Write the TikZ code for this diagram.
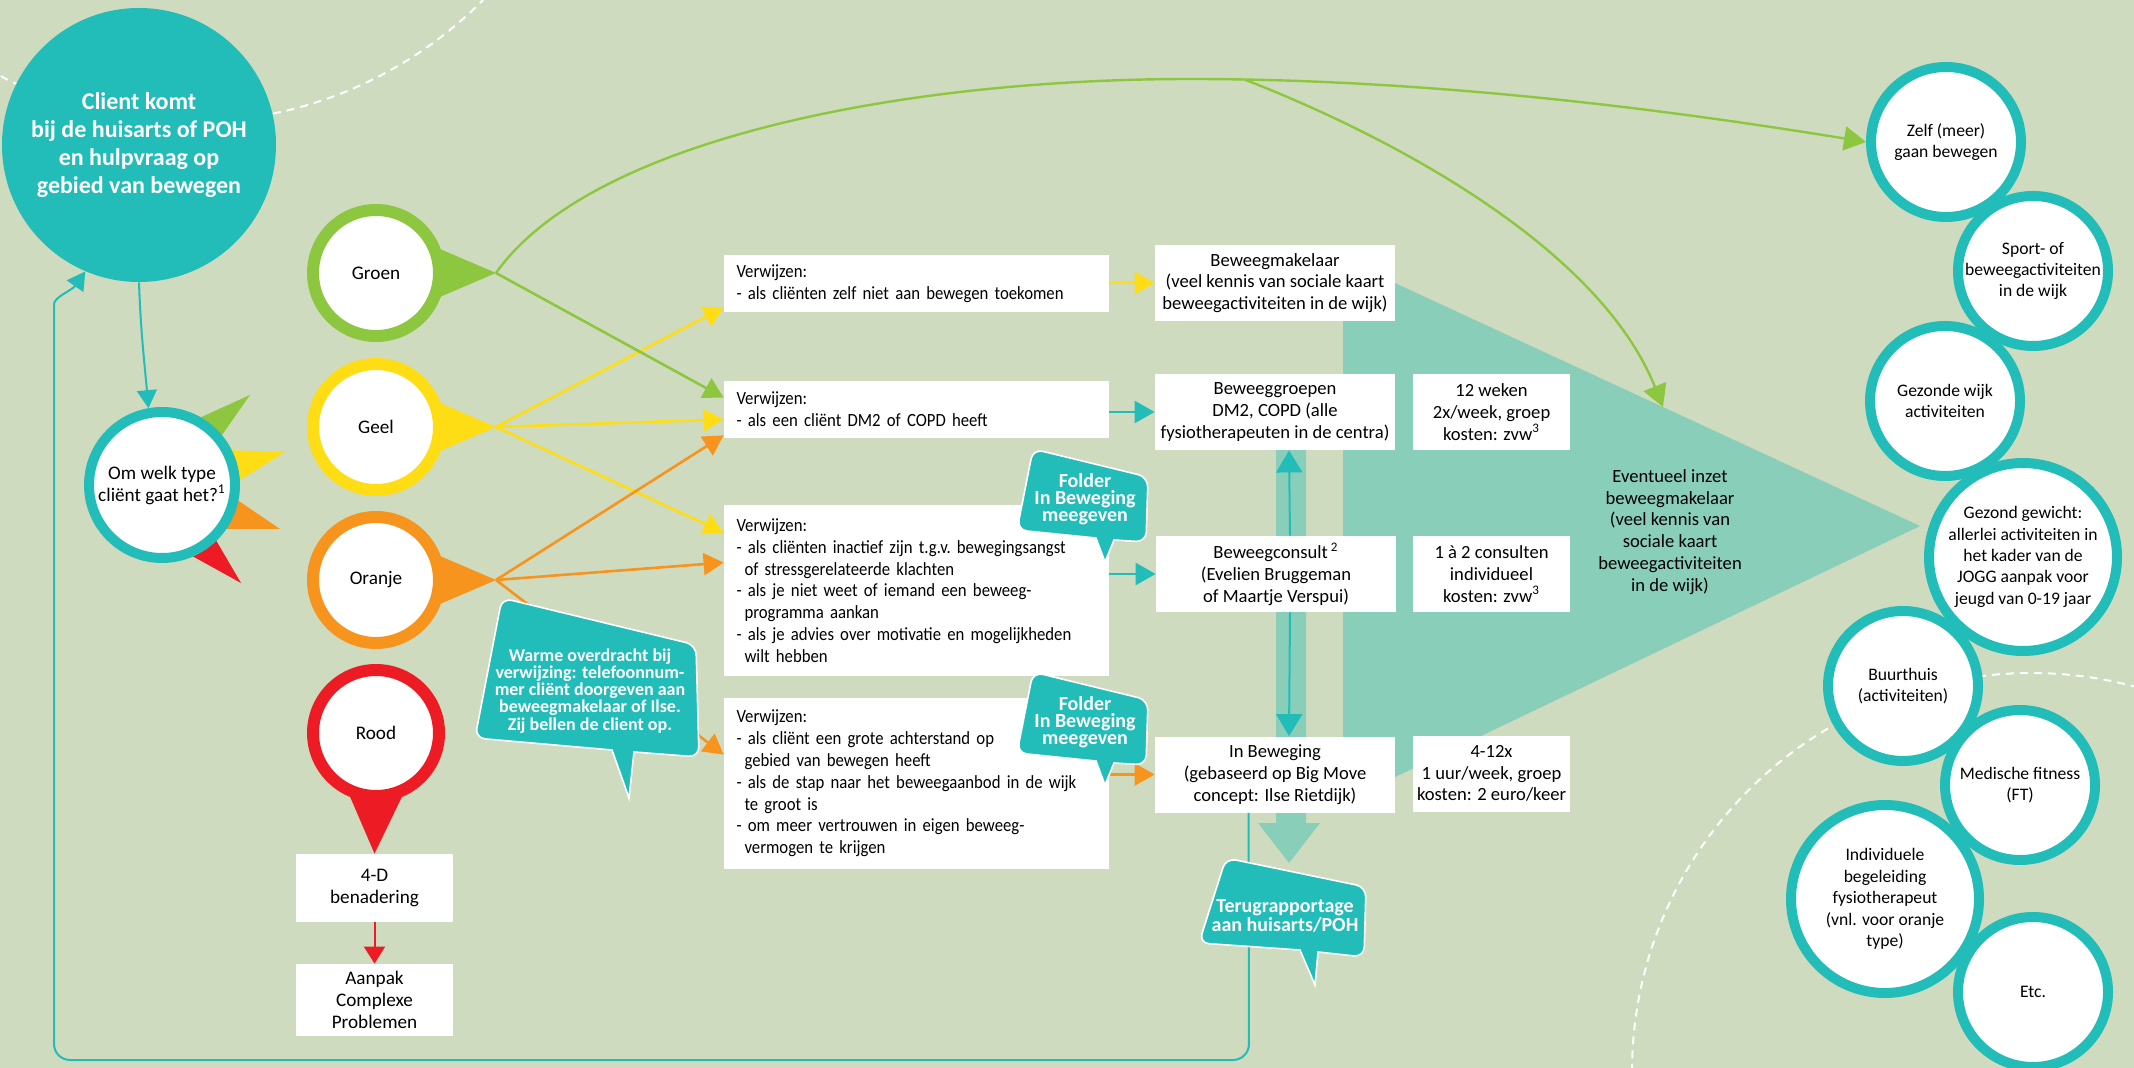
\documentclass[tikz,border=0pt]{standalone}
\usepackage{fontspec}
\setmainfont{Carlito}
\newfontfamily\smalfont{Carlito}[FakeStretch=0.9]
\usetikzlibrary{arrows.meta,positioning,calc}

\definecolor{achtergrond}{RGB}{207,219,190}
\definecolor{cteal}{RGB}{34,188,185}
\definecolor{lichtteal}{RGB}{137,206,185}
\definecolor{cgroen}{RGB}{141,198,63}
\definecolor{cgeel}{RGB}{255,221,21}
\definecolor{coranje}{RGB}{247,148,29}
\definecolor{crood}{RGB}{237,28,36}

\tikzset{
  every node/.append style={font=\fontsize{9.3}{10.9}\selectfont, inner sep=0pt},
}
\tikzset{
  kleurpijl/.style={line width=1.3pt, -{Triangle[length=10pt,width=11pt]}},
  tealpijl/.style={cteal, line width=1pt, -{Triangle[length=9pt,width=10pt]}},
  groenlijn/.style={cgroen, line width=1.2pt, -{Triangle[length=11pt,width=12pt]}},
  ballon/.style={fill=cteal, draw=white, line width=0.8pt},
  ballontekst/.style={text=white, align=center, font=\bfseries\fontsize{9}{8.6}\selectfont},
  stippel/.style={white, line width=1pt, dash pattern=on 4pt off 3pt}
}

\begin{document}
\begin{tikzpicture}[
  x=0.5pt, y=-0.5pt,
  typering/.style={circle, fill=white, line width=6pt, minimum size=63pt, font=\fontsize{9.6}{11}\selectfont},
  aanbod/.style={circle, draw=cteal, fill=white, line width=5pt, minimum size=75pt},
  groot/.style={aanbod, minimum size=94pt},
  aanbodtekst/.style={align=center, font=\fontsize{8.8}{10.7}\selectfont},
  verwijs/.style={fill=white, align=left, text width=180pt, inner xsep=6.25pt, minimum height=28.5pt, font=\smalfont\fontsize{9.3}{10.9}\selectfont\frenchspacing},
  doel/.style={fill=white, align=center, minimum width=120pt, minimum height=38pt},
  kosten/.style={doel, minimum width=78.5pt}
]

% achtergrond
\useasboundingbox (0,0) rectangle (2134,1068);
\clip (0,0) rectangle (2134,1068);
\fill[achtergrond] (0,0) rectangle (2134,1068);

% gestippelde cirkels
\draw[stippel] (190,-291) circle[radius=206.5pt];
\draw[stippel] (2031,1072) circle[radius=199.5pt];

% lichte driehoek en brede pijl achter het aanbod
\fill[lichtteal] (1343,259) -- (1920,526) -- (1343,802) -- cycle;
\fill[lichtteal] (1276,430) -- (1306,430) -- (1306,823) -- (1320,823) -- (1289,863) -- (1258,823) -- (1276,823) -- cycle;
\coordinate (driehoek) at (1663,407);
\node[align=center] (inzet) at (1670,532) {Eventueel inzet\\beweegmakelaar\\(veel kennis van\\sociale kaart\\beweegactiviteiten\\in de wijk)};

% client
\node[circle, fill=cteal, minimum size=137pt, text=white, align=center, font=\bfseries\fontsize{12}{14}\selectfont] (client) at (139,145) {Client komt\\bij de huisarts of POH\\en hulpvraag op\\gebied van bewegen};

% om welk type
\fill[cgroen] (195,420) -- (250,395) -- (215,445) -- cycle;
\fill[cgeel] (225,450) -- (285,452) -- (232,485) -- cycle;
\fill[coranje] (230,495) -- (280,529) -- (220,529) -- cycle;
\fill[crood] (210,530) -- (241,583) -- (185,552) -- cycle;
\node[circle, draw=cteal, fill=white, line width=5pt, minimum size=73pt, align=center, font=\fontsize{9.6}{11}\selectfont] (omwelk) at (162,485) {Om welk type\\cliënt gaat het?\textsuperscript{1}};

% kleuren
\foreach \naam/\kleur/\y/\tekst in {groen/cgroen/273/Groen, geel/cgeel/427/Geel, oranje/coranje/580/Oranje, rood/crood/733/Rood}
  \node[typering, draw=\kleur] (\naam) at (376,\y) {\tekst};

\coordinate (tipgroen) at (496,273);
\coordinate (tipgeel) at (496,427);
\coordinate (tiporanje) at (496,580);
\foreach \naam/\kleur in {groen/cgroen, geel/cgeel, oranje/coranje}
  \fill[\kleur] (\naam.20) -- (tip\naam) -- (\naam.-20) -- cycle;

% rood: 4-D
\node[kosten, minimum height=34pt, font=\fontsize{9.6}{11}\selectfont] (vierd) at (374.5,888) {4-D\\benadering};
\node[kosten, minimum height=36pt, font=\fontsize{9.6}{11}\selectfont] (aanpak) at (374.5,1000) {Aanpak\\Complexe\\Problemen};
\fill[crood] (rood.-112) -- (vierd.north) -- (rood.-68) -- cycle;
\draw[crood, line width=1pt, -{Triangle[length=8.5pt,width=10.5pt]}] (vierd) -- (aanpak);

% verwijzingen
\node[verwijs] (v1) at (916.5,283.5) {Verwijzen:\\- als cliënten zelf niet aan bewegen toekomen};
\node[verwijs] (v2) at (916.5,409.5) {Verwijzen:\\- als een cliënt DM2 of COPD heeft};
\node[verwijs, minimum height=85.5pt] (v3) at (916.5,590.5) {Verwijzen:\\- als cliënten inactief zijn t.g.v. bewegingsangst\\\hspace*{4pt}of stressgerelateerde klachten\\- als je niet weet of iemand een beweeg-\\\hspace*{4pt}programma aankan\\- als je advies over motivatie en mogelijkheden\\\hspace*{4pt}wilt hebben};
\node[verwijs, minimum height=85.5pt] (v4) at (916.5,783.5) {Verwijzen:\\- als cliënt een grote achterstand op\\\hspace*{4pt}gebied van bewegen heeft\\- als de stap naar het beweegaanbod in de wijk\\\hspace*{4pt}te groot is\\- om meer vertrouwen in eigen beweeg-\\\hspace*{4pt}vermogen te krijgen};

% aanbod
\node[doel] (makelaar) at (1275,283) {Beweegmakelaar\\(veel kennis van sociale kaart\\beweegactiviteiten in de wijk)};
\node[doel] (groepen) at (1275,412) {Beweeggroepen\\DM2, COPD (alle\\fysiotherapeuten in de centra)};
\node[doel] (consult) at (1276,574) {Beweegconsult\,\textsuperscript{2}\\(Evelien Bruggeman\\of Maartje Verspui)};
\node[doel] (inbew) at (1275,774.5) {In Beweging\\(gebaseerd op Big Move\\concept: Ilse Rietdijk)};
\node[kosten] (weken) at (1491.5,412) {12 weken\\2x/week, groep\\kosten: zvw\textsuperscript{3}};
\node[kosten] (consulten) at (1491.5,574) {1 à 2 consulten\\individueel\\kosten: zvw\textsuperscript{3}};
\node[kosten] (keer) at (1491.5,773.5) {4-12x\\1 uur/week, groep\\kosten: 2 euro/keer};

% activiteiten in de wijk
\node[aanbod] (zelf) at (1946,142) {};
\node[aanbodtekst] (zelftekst) at (zelf) {Zelf (meer)\\gaan bewegen};
\node[aanbod] (sport) at (2033,271) {};
\node[aanbodtekst] (sporttekst) at (sport) {Sport- of\\beweegactiviteiten\\in de wijk};
\node[aanbod] (wijk) at (1945,401) {};
\node[aanbodtekst] (wijktekst) at (wijk) {Gezonde wijk\\activiteiten};
\node[groot] (gewicht) at (2023,557) {};
\node[aanbodtekst] (gewichttekst) at (gewicht) {Gezond gewicht:\\allerlei activiteiten in\\het kader van de\\JOGG aanpak voor\\jeugd van 0-19 jaar};
\node[aanbod] (buurthuis) at (1903,686) {};
\node[aanbodtekst] (buurthuistekst) at (buurthuis) {Buurthuis\\(activiteiten)};
\node[aanbod] (fitness) at (2020,785) {};
\node[aanbodtekst] (fitnesstekst) at (fitness) {Medische fitness\\(FT)};
\node[groot] (individueel) at (1885,899) {};
\node[aanbodtekst] (individueeltekst) at (individueel) {Individuele\\begeleiding\\fysiotherapeut\\(vnl. voor oranje\\type)};
\node[aanbod] (etc) at (2033,992) {};
\node[aanbodtekst] (etctekst) at (etc) {Etc.};

% pijlen vanuit de kleuren
\draw[kleurpijl, cgeel] (tipgeel) -- ($(v1.south west)+(0,-5)$);
\draw[kleurpijl, cgeel] (tipgeel) -- ($(v2.west)+(0,10)$);
\draw[kleurpijl, cgeel] (tipgeel) -- ($(v3.north west)+(0,28)$);
\draw[kleurpijl, cgroen] (tipgroen) -- ($(v2.north west)+(0,17)$);
\draw[kleurpijl, coranje] (tiporanje) -- ($(v2.south west)+(0,-3)$);
\draw[kleurpijl, coranje] (tiporanje) -- ($(v3.north west)+(0,58)$);
\draw[kleurpijl, coranje] (tiporanje) -- ($(v4.north west)+(0,57)$);

% groene boog naar zelf bewegen
\draw[groenlijn] (tipgroen) .. controls (590,140) and (900,79) .. (1190,79)
  .. controls (1450,79) and (1700,115) .. (zelf.west) coordinate[pos=0.07] (gtak);
\draw[groenlijn] (gtak) .. controls (1400,140) and (1600,250) .. (driehoek);

% verwijzen naar aanbod
\draw[kleurpijl, cgeel] (v1.east |- makelaar.west) -- (makelaar.west);
\draw[kleurpijl, cteal] (v2.east |- groepen.west) -- (groepen.west);
\draw[kleurpijl, cteal] (v3.east |- consult.west) -- (consult.west);
\draw[kleurpijl, coranje] (v4.east |- inbew.west) -- (inbew.west);
\draw[tealpijl, -{Triangle[length=11pt,width=13pt]}] ([xshift=7pt]consult.north) -- ([xshift=7pt]groepen.south);
\draw[tealpijl, -{Triangle[length=11pt,width=13pt]}] ([xshift=7pt]consult.south) -- ([xshift=7pt]inbew.north);

% terug naar de client
\draw[tealpijl] (client.south) to[out=-88, in=95] (omwelk.100);
\draw[tealpijl, rounded corners=8pt] ($(inbew.south west)+(94,0)$) -- (1249,1060) -- (54,1060) -- (54,320) to[out=90, in=235] (client.247);

% ballonnen
\path[ballon] [rounded corners=5pt] (502,598) -- (696,645) -- (699,757) [sharp corners] -- (634,752) -- (629,798) -- (612,750) [rounded corners=5pt] -- (475,738) -- cycle;
\node[ballontekst] (warme) at (590,691) {Warme overdracht bij\\verwijzing: telefoonnum-\\mer cliënt doorgeven aan\\beweegmakelaar of Ilse.\\Zij bellen de client op.};

\foreach \dy/\naam in {0/folder1, 223/folder2} {
  \path[ballon, shift={(0,\dy)}] [rounded corners=5pt] (1033,449) -- (1148,477) -- (1146,542) [sharp corners] -- (1114,540) -- (1105,562) -- (1096,538) [rounded corners=5pt] -- (1017,530) -- cycle;
  \node[ballontekst, font=\bfseries\fontsize{10}{8.6}\selectfont] (\naam) at (1085,499+\dy) {Folder\\In Beweging\\meegeven};
}

\path[ballon] [rounded corners=5pt] (1226,858) -- (1366,887) -- (1364,957) [sharp corners] -- (1318,952) -- (1315,985) -- (1300,950) [rounded corners=5pt] -- (1199,943) -- cycle;
\node[ballontekst, font=\bfseries\fontsize{10}{9.2}\selectfont] (terug) at (1285,916) {Terugrapportage\\aan huisarts/POH};

\end{tikzpicture}
\end{document}
